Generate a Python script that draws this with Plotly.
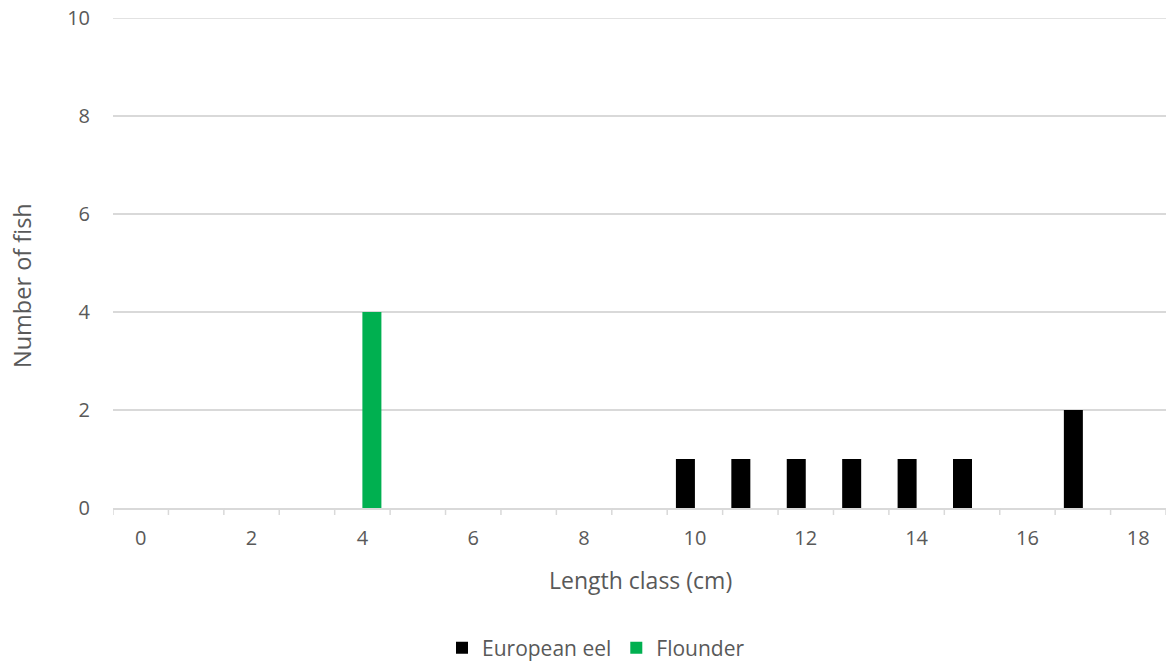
import plotly.graph_objects as go

categories = list(range(0, 19))
eel_values = [0, 0, 0, 0, 0, 0, 0, 0, 0, 0, 1, 1, 1, 1, 1, 1, 0, 2, 0]
flounder_values = [0, 0, 0, 0, 4, 0, 0, 0, 0, 0, 0, 0, 0, 0, 0, 0, 0, 0, 0]
tick_vals = [0, 2, 4, 6, 8, 10, 12, 14, 16, 18]
y_ticks = [0, 2, 4, 6, 8, 10]

FONT = "Open Sans"
GRAY = "#595959"
GRID = "#d9d9d9"
W, H = 1169, 664
PL, PR, PT, PB = 113, 1166, 18, 508
PW, PH = PR - PL, PB - PT

fig = go.Figure()
fig.add_trace(go.Bar(x=categories, y=eel_values, name="European eel",
                     marker=dict(color="#000000", line=dict(width=0))))
fig.add_trace(go.Bar(x=categories, y=flounder_values, name="Flounder",
                     marker=dict(color="#00B050", line=dict(width=0))))

fig.update_layout(
    width=W, height=H,
    margin=dict(l=PL, r=W - PR, t=PT, b=H - PB),
    paper_bgcolor="white", plot_bgcolor="white",
    barmode="group", bargap=0.314, bargroupgap=0,
    font=dict(family=FONT, size=20, color=GRAY),
    showlegend=True,
    legend=dict(orientation="h", xref="container", yref="container",
                x=442 / W, xanchor="left",
                y=1 - 648 / H, yanchor="middle", font=dict(size=21, color=GRAY),
                itemwidth=30, tracegroupgap=0),
    xaxis=dict(
        type="linear", range=[-0.5, 18.5], automargin=False,
        tickmode="array", tickvals=tick_vals, ticktext=[str(v) for v in tick_vals],
        showgrid=False, showline=True, linecolor=GRID, linewidth=1.5,
        ticks="", zeroline=False, ticklabelstandoff=11,
        tickfont=dict(size=20, color=GRAY),
    ),
    yaxis=dict(
        range=[0, y_ticks[-1]], tickmode="array", tickvals=y_ticks, automargin=False,
        showgrid=True, gridcolor=GRID, gridwidth=1.5,
        showline=False, zeroline=False, ticks="", ticklabelstandoff=22,
        tickfont=dict(size=20, color=GRAY),
    ),
)

# Top gridline (plotly clips gridlines at the range edge)
fig.add_shape(type="line", xref="paper", yref="y", x0=0, x1=1,
              y0=y_ticks[-1], y1=y_ticks[-1], line=dict(color=GRID, width=1.5),
              layer="below")

# Category tick marks at boundaries (Excel-style)
for i in range(len(categories) + 1):
    fig.add_shape(type="line", xref="x", yref="paper",
                  x0=i - 0.5, x1=i - 0.5, y0=0, y1=-7 / PH,
                  line=dict(color=GRID, width=1.5))

fig.add_annotation(text="Length class (cm)", xref="paper", yref="paper",
                   x=(640 - PL) / PW, y=-(580 - PB) / PH,
                   xanchor="center", yanchor="middle",
                   showarrow=False, font=dict(size=23, color=GRAY))
fig.add_annotation(text="Number of fish", xref="paper", yref="paper",
                   x=-(PL - 22) / PW, y=(PB - 286) / PH,
                   xanchor="center", yanchor="middle", textangle=-90,
                   showarrow=False, font=dict(size=23.5, color=GRAY))

fig.write_html("out.html", config={"displayModeBar": False},
               post_script="document.body.style.margin='0';")
